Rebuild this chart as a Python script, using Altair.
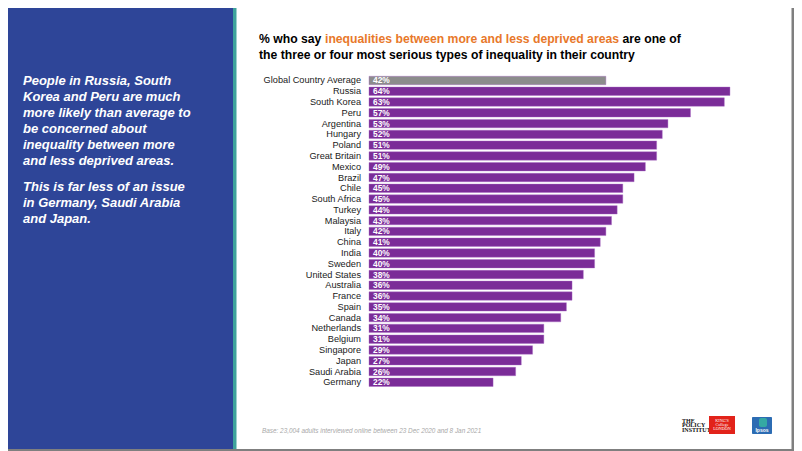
import altair as alt
import pandas as pd

# ---------------- data ----------------
countries = ["Global Country Average", "Russia", "South Korea", "Peru", "Argentina",
             "Hungary", "Poland", "Great Britain", "Mexico", "Brazil", "Chile",
             "South Africa", "Turkey", "Malaysia", "Italy", "China", "India", "Sweden",
             "United States", "Australia", "France", "Spain", "Canada", "Netherlands",
             "Belgium", "Singapore", "Japan", "Saudi Arabia", "Germany"]
values = [42, 64, 63, 57, 53, 52, 51, 51, 49, 47, 45, 45, 44, 43, 42, 41, 40, 40,
          38, 36, 36, 35, 34, 31, 31, 29, 27, 26, 22]
groups = ["avg"] + ["country"] * 28

side_lines_1 = ["People in Russia, South", "Korea and Peru are much",
                "more likely than average to", "be concerned about",
                "inequality between more", "and less deprived areas."]
side_lines_2 = ["This is far less of an issue", "in Germany, Saudi Arabia", "and Japan."]

title_a = "% who say "
title_b = "inequalities between more and less deprived areas"
title_c = "are one of"
title_d = "the three or four most serious types of inequality in their country"
footnote = "Base: 23,004 adults interviewed online between 23 Dec 2020 and 8 Jan 2021"

FONT = "Liberation Sans"
W, H = 786, 443

df = pd.DataFrame({"country": countries, "value": values, "group": groups})
df["label"] = [f"{v}%" for v in values]

one = pd.DataFrame({"a": [0]})


def rect(x, x2, y, y2, color, **kw):
    return alt.Chart(one).mark_rect(color=color, **kw).encode(
        x=alt.value(x), x2=alt.value(x2), y=alt.value(y), y2=alt.value(y2))


def txt(x, y, s, size, color="black", weight="normal", style="normal",
        align="left", baseline="alphabetic", font=FONT):
    return alt.Chart(one).mark_text(
        text=s, fontSize=size, color=color, fontWeight=weight, fontStyle=style,
        align=align, baseline=baseline, font=font).encode(
        x=alt.value(x), y=alt.value(y))


layers = []
# background panels
layers.append(rect(0, W, 0, H, "white"))
layers.append(rect(0, 225, 0, H - 2, "#2E4598"))
layers.append(rect(225, 228.5, 0, H - 2, "#3FA39C"))
layers.append(rect(W - 2.5, W, 0, H, "#7F7F7F"))
layers.append(rect(0, W, H - 2, H, "#7F7F7F"))

# side text
for i, s in enumerate(side_lines_1):
    layers.append(txt(15, 76.5 + 16 * i, s, 13, "white", "bold", "italic"))
for i, s in enumerate(side_lines_2):
    layers.append(txt(15, 182.5 + 16 * i, s, 13, "white", "bold", "italic"))

# title
layers.append(txt(251, 34.5, title_a, 12.2, "black", "bold"))
layers.append(txt(317, 34.5, title_b, 12.2, "#E8782A", "bold"))
layers.append(txt(614.5, 34.5, title_c, 12.2, "black", "bold"))
layers.append(txt(251, 50.8, title_d, 12.2, "black", "bold"))

# footnote
layers.append(txt(254, 425, footnote, 6.4, "#A8A8A8", "normal", "italic"))

# logos
for i, s in enumerate(["THE", "POLICY", "INSTITUTE"]):
    layers.append(txt(674, 414.5 + 4.9 * i, s, 6, "#111111", "bold",
                      font="Liberation Sans Narrow"))
layers.append(rect(701, 727, 408, 426, "#E2231A"))
for i, s in enumerate(["KING'S", "College", "LONDON"]):
    layers.append(txt(714, 413.5 + 4.3 * i, s, 4.2, "white", "normal",
                      align="center", font="Liberation Serif"))
layers.append(rect(744, 764, 409, 426, "#2C6CB3", cornerRadius=1))
layers.append(rect(751, 759, 410, 419, "#35A9A3", cornerRadius=2))
layers.append(txt(754, 424, "Ipsos", 5, "white", "bold", align="center"))

# bars
xs = alt.Scale(domain=[0, 100], range=[361, 925])
ys = alt.Scale(domain=countries, range=[67.1, 379.7], paddingInner=0.22, paddingOuter=0.11)

base = alt.Chart(df).encode(
    y=alt.Y("country:N", scale=ys, axis=None, sort=countries))

bars = base.mark_bar(stroke="#A86BC4", strokeWidth=0.4).encode(
    x=alt.X("value:Q", scale=xs, axis=None),
    color=alt.Color("group:N", scale=alt.Scale(domain=["avg", "country"],
                                                range=["#8C8C8C", "#7B2C98"]),
                    legend=None))

value_labels = base.transform_calculate(zero="0").mark_text(
    align="left", baseline="middle", dx=4, fontSize=8.4, fontWeight="bold",
    color="white", font=FONT).encode(
    x=alt.X("zero:Q", scale=xs, axis=None), text="label:N")

country_labels = base.transform_calculate(zero="0").mark_text(
    align="right", baseline="middle", dx=-8, fontSize=9.2, color="#1A1A1A",
    font=FONT).encode(
    x=alt.X("zero:Q", scale=xs, axis=None), text="country:N")

layers += [bars, value_labels, country_labels]

chart = alt.layer(*layers).properties(
    width=W, height=H, padding=0, autosize=alt.AutoSizeParams(type="none"),
    background="white"
).configure_view(strokeWidth=0)

chart.save("out.html", embed_options={"renderer": "svg", "actions": False})
